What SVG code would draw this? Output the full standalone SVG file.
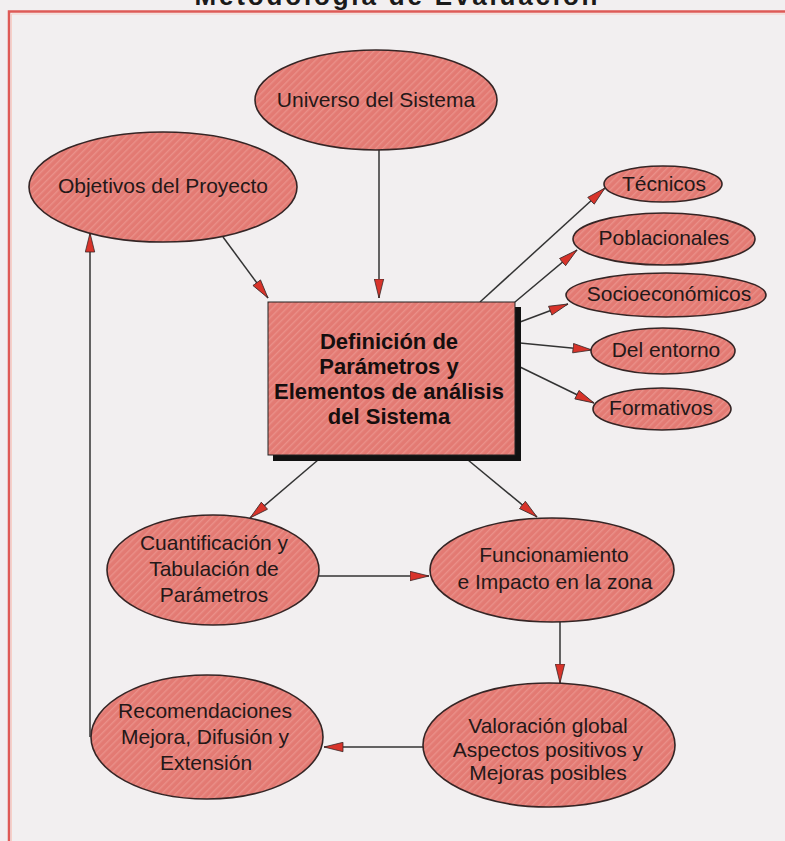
<svg xmlns="http://www.w3.org/2000/svg" width="785" height="841" viewBox="0 0 785 841">
<defs>
<pattern id="hatch" width="5" height="5" patternUnits="userSpaceOnUse" patternTransform="rotate(45)">
<rect width="5" height="5" fill="#e37a73"/>
<rect width="1.4" height="5" fill="#ea9089"/>
</pattern>
<marker id="ah" viewBox="0 0 20 11" refX="19.5" refY="5.5" markerWidth="20" markerHeight="11" markerUnits="userSpaceOnUse" orient="auto">
<path d="M0.5,0.8 L19.5,5.5 L0.5,10.2 Z" fill="#d8332a" stroke="#3a2a2a" stroke-width="0.8" stroke-linejoin="round"/>
</marker>
<style>
.nd{fill:url(#hatch);stroke:#352525;stroke-width:1.6}
.t{font-family:"Liberation Sans",Arial,Helvetica,sans-serif;font-size:21px;fill:#241818;text-anchor:middle}
.tb{font-family:"Liberation Sans",Arial,Helvetica,sans-serif;font-size:22px;font-weight:bold;fill:#150e0e;text-anchor:middle}
.c{fill:none;stroke:#333;stroke-width:1.5}
.ca{fill:none;stroke:#333;stroke-width:1.5;marker-end:url(#ah)}
</style>
</defs>
<rect width="785" height="841" fill="#f2eff0"/>
<text x="396" y="5" font-family="'Liberation Sans',Arial,sans-serif" font-size="26" font-weight="bold" fill="#1a1a1a" text-anchor="middle" textLength="403" lengthAdjust="spacing">Metodología de Evaluación</text>
<path d="M9,841 V11.5 H785" fill="none" stroke="#de5a56" stroke-width="2.5"/>
<path d="M11.5,841 V14 H785" fill="none" stroke="#f6d0c8" stroke-width="1"/>

<g id="connectors">
<line class="ca" x1="223" y1="237" x2="268" y2="298"/>
<line class="ca" x1="379" y1="150" x2="379" y2="298"/>
<line class="ca" x1="480" y1="302" x2="605" y2="188"/>
<line class="ca" x1="515" y1="302" x2="577" y2="250"/>
<line class="ca" x1="520" y1="322" x2="568" y2="304"/>
<line class="ca" x1="520" y1="343" x2="592" y2="350"/>
<line class="ca" x1="520" y1="367" x2="594" y2="403"/>
<line class="ca" x1="318" y1="460" x2="250" y2="518"/>
<line class="ca" x1="468" y1="460" x2="537" y2="517"/>
<line class="ca" x1="318" y1="576" x2="429" y2="576"/>
<line class="ca" x1="560" y1="622" x2="560" y2="683"/>
<line class="ca" x1="423" y1="747" x2="324" y2="747"/>
<line class="ca" x1="90" y1="737" x2="90" y2="233"/>
</g>

<g id="universo">
<ellipse class="nd" cx="376" cy="100" rx="121" ry="50"/>
<text class="t" x="376" y="107">Universo del Sistema</text>
</g>
<g id="objetivos">
<ellipse class="nd" cx="163" cy="187" rx="134" ry="55"/>
<text class="t" x="163" y="193">Objetivos del Proyecto</text>
</g>
<g id="definicion">
<rect x="273" y="307" width="248" height="154" fill="#111"/>
<rect x="268" y="302" width="247" height="153" fill="url(#hatch)" stroke="#222" stroke-width="1"/>
<text class="tb" x="389" y="349">Definición de</text>
<text class="tb" x="389" y="374">Parámetros y</text>
<text class="tb" x="389" y="399">Elementos de análisis</text>
<text class="tb" x="389" y="424">del Sistema</text>
</g>
<g id="tecnicos">
<ellipse class="nd" cx="663" cy="184" rx="59" ry="18"/>
<text class="t" x="664" y="191">Técnicos</text>
</g>
<g id="poblacionales">
<ellipse class="nd" cx="664" cy="239" rx="91" ry="26"/>
<text class="t" x="664" y="245">Poblacionales</text>
</g>
<g id="socioeconomicos">
<ellipse class="nd" cx="666" cy="295" rx="100" ry="22"/>
<text class="t" x="669" y="301">Socioeconómicos</text>
</g>
<g id="entorno">
<ellipse class="nd" cx="663" cy="351" rx="72" ry="23"/>
<text class="t" x="666" y="357">Del entorno</text>
</g>
<g id="formativos">
<ellipse class="nd" cx="662" cy="409" rx="69" ry="21"/>
<text class="t" x="661" y="415">Formativos</text>
</g>
<g id="cuantificacion">
<ellipse class="nd" cx="213" cy="570" rx="106" ry="55"/>
<text class="t" x="214" y="550">Cuantificación y</text>
<text class="t" x="214" y="576">Tabulación de</text>
<text class="t" x="214" y="602">Parámetros</text>
</g>
<g id="funcionamiento">
<ellipse class="nd" cx="552" cy="570" rx="122" ry="52"/>
<text class="t" x="554" y="562">Funcionamiento</text>
<text class="t" x="555" y="589">e Impacto en la zona</text>
</g>
<g id="valoracion">
<ellipse class="nd" cx="549" cy="745" rx="126" ry="62"/>
<text class="t" x="548" y="733">Valoración global</text>
<text class="t" x="548" y="757">Aspectos positivos y</text>
<text class="t" x="548" y="780">Mejoras posibles</text>
</g>
<g id="recomendaciones">
<ellipse class="nd" cx="207" cy="737" rx="116" ry="62"/>
<text class="t" x="205" y="718">Recomendaciones</text>
<text class="t" x="205" y="744">Mejora, Difusión y</text>
<text class="t" x="206" y="770">Extensión</text>
</g>
</svg>
